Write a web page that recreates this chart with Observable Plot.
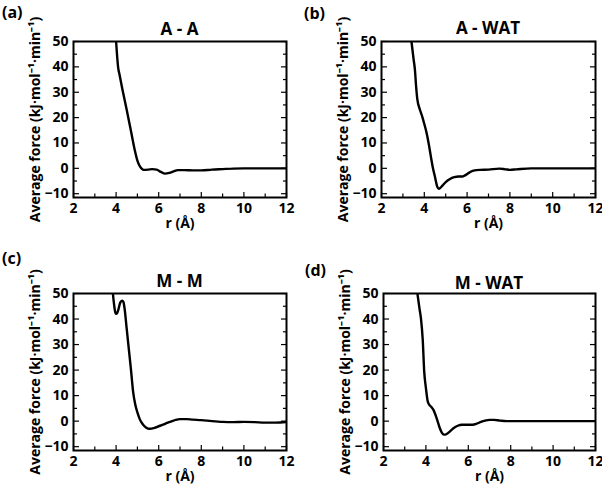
<!DOCTYPE html>
<html><head><meta charset="utf-8">
<script src="https://cdn.jsdelivr.net/npm/d3@7"></script>
<script src="https://cdn.jsdelivr.net/npm/@observablehq/plot@0.6"></script>
<style>
body{margin:0;background:#fff;}
#root{position:relative;width:602px;height:490px;font-family:"Open Sans",sans-serif;font-weight:bold;color:#000;}
.panel{position:absolute;width:301px;height:245px;}
.panel svg{position:absolute;left:0;top:0;}
.tag{position:absolute;font-size:16px;line-height:1;}
.ttl{position:absolute;font-size:17px;line-height:1;transform:translate(-50%,-50%);white-space:nowrap;}
</style></head><body><div id="root"></div>
<script>
// Data
const rAA = [4.0,4.05,4.1,4.16,4.3,4.5,4.7,4.9,5.0,5.1,5.2,5.3,5.5,5.7,5.9,6.1,6.3,6.5,6.7,6.9,7.2,7.6,8.0,8.5,9.0,9.5,10,11,12];
const fAA = [50,44,39.5,37,31,23,14.6,6.3,3,1,-0.1,-0.6,-0.5,-0.3,-0.5,-1.4,-2.1,-1.8,-1.2,-0.7,-0.7,-0.8,-0.8,-0.5,-0.3,-0.1,0,0,0];

const rAW = [3.4,3.5,3.56,3.62,3.67,3.8,3.9,4.0,4.1,4.2,4.3,4.4,4.5,4.6,4.68,4.75,4.85,5.0,5.2,5.4,5.6,5.8,5.9,6.1,6.3,6.6,7.0,7.5,7.8,8.0,8.3,9.0,10,12];
const fAW = [50,43,39,32,27.5,23,20.5,17.5,14.2,10,5,0.2,-3.4,-7.1,-8.1,-7.7,-6.8,-5.4,-4.2,-3.5,-3.2,-3.2,-2.8,-1.7,-0.9,-0.6,-0.5,-0.1,-0.4,-0.6,-0.4,0,0,0];

const rMM = [3.85,3.9,3.95,4.0,4.05,4.1,4.2,4.3,4.35,4.4,4.5,4.6,4.7,4.8,4.9,5.0,5.1,5.2,5.3,5.4,5.5,5.6,5.8,6.0,6.2,6.4,6.6,6.8,7.0,7.3,7.6,8.0,8.5,9.0,9.5,10,10.5,11,11.5,12];
const fMM = [50,46,43,42,42.3,43.5,46.5,47.2,46.5,44,36,28,20,11.5,6.5,3.4,1,-0.6,-1.7,-2.5,-2.9,-3.0,-2.6,-2,-1.4,-0.7,-0.1,0.5,0.8,0.8,0.6,0.4,0,-0.3,-0.4,-0.3,-0.4,-0.6,-0.6,-0.3];

const rMW = [3.6,3.7,3.77,3.85,3.92,4.0,4.08,4.15,4.25,4.35,4.45,4.55,4.65,4.75,4.85,4.95,5.05,5.2,5.35,5.5,5.7,6.0,6.2,6.4,6.6,6.8,7.0,7.2,7.5,7.8,9,10,12];
const fMW = [50,44,40,32,19.5,13,8,6.5,5.6,4.5,2.5,0,-2.6,-4.5,-5.3,-5.2,-4.6,-3.5,-2.5,-1.8,-1.4,-1.4,-1.4,-1.0,-0.3,0.2,0.5,0.5,0.2,0,0,0,0];

const tags = ["(a)","(b)","(c)","(d)"];
const titles = ["A - A","A - WAT","M - M","M - WAT"];
const series = [[rAA,fAA],[rAW,fAW],[rMM,fMM],[rMW,fMW]];

const xMajor = [2,4,6,8,10,12];
const xMinor = [3,5,7,9,11];
const yMajor = [-10,0,10,20,30,40,50];
const yMinor = [-5,5,15,25,35,45];
const xLabel = "r (Å)";
const yLabel = "Average force (kJ·mol⁻¹·min⁻¹)";

// Layout (pixels)
const layout = [
  {left:0,   top:0,   mL:73, mR:15, mT:41, mB:48, tag:[2,4],   ttlY:28},
  {left:301, top:0,   mL:80, mR:7,  mT:41, mB:48, tag:[3,5],   ttlY:27},
  {left:0,   top:245, mL:73, mR:15, mT:48, mB:40, tag:[2,5],  ttlY:35},
  {left:301, top:245, mL:82, mR:7,  mT:48, mB:40, tag:[4,17],  ttlY:37}
];

const root = document.getElementById("root");
layout.forEach((L, i) => {
  const [rs, fs] = series[i];
  const data = rs.map((r, j) => ({r, f: fs[j]}));
  const div = document.createElement("div");
  div.className = "panel";
  div.style.left = L.left + "px";
  div.style.top = L.top + "px";
  const W = 301, H = 245;
  const plot = Plot.plot({
    width: W, height: H,
    marginLeft: L.mL, marginRight: L.mR, marginTop: L.mT, marginBottom: L.mB,
    x: {domain: [2, 12]},
    y: {domain: [-11.5, 50]},
    style: {fontFamily: "'Open Sans', sans-serif", fontSize: "14px", fontWeight: "bold", color: "#000", background: "transparent", overflow: "visible"},
    marks: [
      Plot.line(data, {x: "r", y: "f", stroke: "#000", strokeWidth: 2.4, curve: "monotone-x", clip: true}),
      Plot.axisX(xMajor, {tickSize: -5, tickPadding: 11, strokeWidth: 1.2, label: xLabel, labelAnchor: "center", labelArrow: "none", labelOffset: 30, fontSize: 14}),
      Plot.axisX(xMinor, {tickSize: -3.5, strokeWidth: 1.2, tickFormat: () => "", label: null}),
      Plot.axisY(yMajor, {tickSize: -6, tickPadding: 11, strokeWidth: 1.2, label: yLabel, labelAnchor: "center", labelArrow: "none", labelOffset: 43, fontSize: 14}),
      Plot.axisY(yMinor, {tickSize: -4, strokeWidth: 1.2, tickFormat: () => "", label: null}),
      Plot.axisY(yMajor, {anchor: "right", tickSize: -6, strokeWidth: 1.2, tickFormat: () => "", label: null}),
      Plot.axisY(yMinor, {anchor: "right", tickSize: -4, strokeWidth: 1.2, tickFormat: () => "", label: null}),
      Plot.frame({stroke: "#000", strokeWidth: 2})
    ]
  });
  div.appendChild(plot);
  const tg = document.createElement("div");
  tg.className = "tag";
  tg.textContent = tags[i];
  tg.style.left = L.tag[0] + "px";
  tg.style.top = L.tag[1] + "px";
  div.appendChild(tg);
  const tt = document.createElement("div");
  tt.className = "ttl";
  tt.textContent = titles[i];
  tt.style.left = ((L.mL + (W - L.mR)) / 2) + "px";
  tt.style.top = L.ttlY + "px";
  div.appendChild(tt);
  root.appendChild(div);
});
</script>
</body></html>
